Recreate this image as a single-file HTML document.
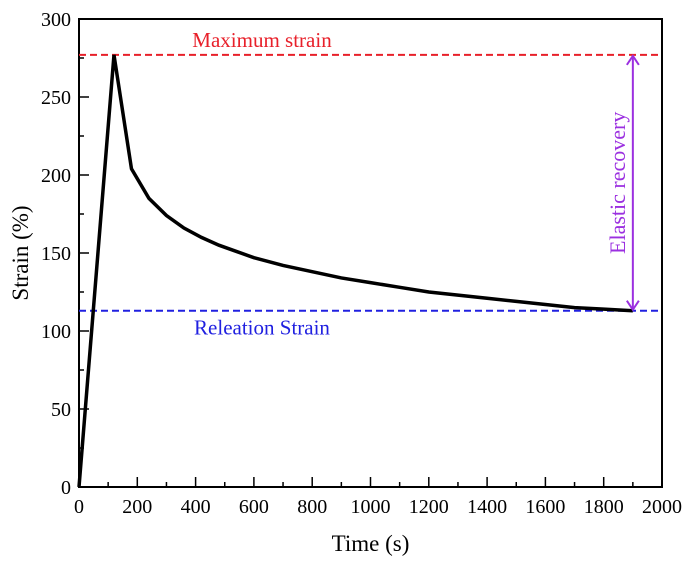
<!DOCTYPE html>
<html><head><meta charset="utf-8"><style>
body{margin:0;background:#fff}
text{font-family:"Liberation Serif",serif}
</style></head><body>
<svg id="chart" width="685" height="559" viewBox="0 0 685 559" xmlns="http://www.w3.org/2000/svg"></svg>
<script>
const times=[0,120,180,240,300,360,420,480,540,600,700,800,900,1000,1100,1200,1300,1400,1500,1600,1700,1800,1900];
const strains=[0,277,204,185,174,166,160,155,151,147,142,138,134,131,128,125,123,121,119,117,115,114,113];
const xTicks=[0,200,400,600,800,1000,1200,1400,1600,1800,2000];
const yTicks=[0,50,100,150,200,250,300];
const maxStrain=[277];
const relaxStrain=[113];
const recoveryTime=[1900];
const L=79,R=662,T=19,B=487;
const sx=v=>L+(v/2000)*(R-L), sy=v=>B-(v/300)*(B-T);
const svg=document.getElementById('chart');const NS='http://www.w3.org/2000/svg';
function mk(tag,attrs,txt){const e=document.createElementNS(NS,tag);for(const k in attrs)e.setAttribute(k,attrs[k]);if(txt!==undefined)e.textContent=txt;svg.appendChild(e);return e;}
let f=mk('rect',{x:L,y:T,width:R-L,height:B-T,fill:'none',stroke:'#000','stroke-width':2});


for(let v=0;v<=2000;v+=100){const major=v%200===0;let t=mk('line',{x1:sx(v),x2:sx(v),y1:B,y2:B-(major?10:5),stroke:'#000','stroke-width':1.5});

}
for(let v=0;v<=300;v+=25){const major=v%50===0;let t=mk('line',{x1:L,x2:L+(major?10:5),y1:sy(v),y2:sy(v),stroke:'#000','stroke-width':1.5});

}
xTicks.forEach(v=>{let t=mk('text',{x:sx(v),y:B+26,'text-anchor':'middle','font-size':20},v);

});
yTicks.forEach(v=>{let t=mk('text',{x:L-8,y:sy(v)+7,'text-anchor':'end','font-size':20},v);

});
let xt=mk('text',{x:(L+R)/2,y:551,'text-anchor':'middle','font-size':23},'Time (s)');


let yt=mk('text',{x:0,y:0,'text-anchor':'middle','font-size':23,transform:`translate(28,${(T+B)/2}) rotate(-90)`},'Strain (%)');


let ml=mk('line',{x1:L,x2:R,y1:sy(maxStrain[0]),y2:sy(maxStrain[0]),stroke:'#e8202a','stroke-width':2,'stroke-dasharray':'7,4'});


let rl=mk('line',{x1:L,x2:R,y1:sy(relaxStrain[0]),y2:sy(relaxStrain[0]),stroke:'#2020e0','stroke-width':2,'stroke-dasharray':'7,4'});


let mt=mk('text',{x:262,y:sy(maxStrain[0])-8,'text-anchor':'middle','font-size':21,fill:'#e8202a'},'Maximum strain');


let rt=mk('text',{x:262,y:sy(relaxStrain[0])+24,'text-anchor':'middle','font-size':21,fill:'#2020e0'},'Releation Strain');


let pl=mk('polyline',{points:times.map((t,i)=>sx(t)+','+sy(strains[i])).join(' '),fill:'none',stroke:'#000','stroke-width':3.5,'stroke-linejoin':'miter'});


const ax=sx(recoveryTime[0]),ay1=sy(maxStrain[0]),ay2=sy(relaxStrain[0]),pc='#9b30e0';
let al=mk('line',{x1:ax,x2:ax,y1:ay1+1,y2:ay2-1,stroke:pc,'stroke-width':2});


let h1=mk('polyline',{points:`${ax-6},${ay1+10} ${ax},${ay1+1} ${ax+6},${ay1+10}`,fill:'none',stroke:pc,'stroke-width':2});


let h2=mk('polyline',{points:`${ax-6},${ay2-10} ${ax},${ay2-1} ${ax+6},${ay2-10}`,fill:'none',stroke:pc,'stroke-width':2});


let et=mk('text',{x:0,y:0,'text-anchor':'middle','font-size':22,fill:pc,transform:`translate(625,${(ay1+ay2)/2}) rotate(-90)`},'Elastic recovery');


</script>
</body></html>
